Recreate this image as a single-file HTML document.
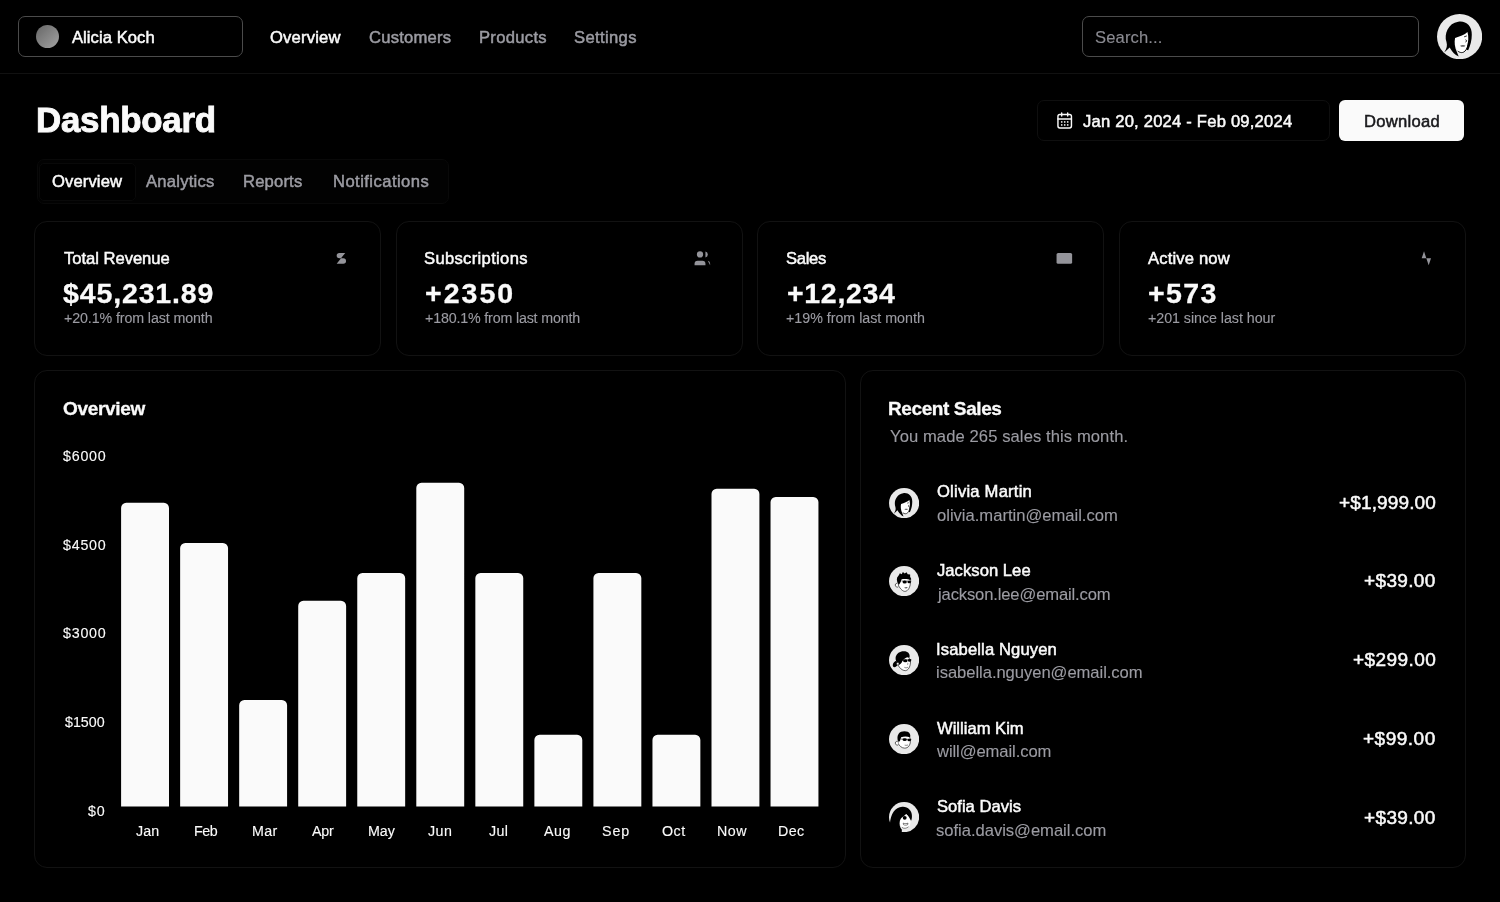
<!DOCTYPE html>
<html>
<head>
<meta charset="utf-8">
<title>Dashboard</title>
<style>
*{box-sizing:border-box;margin:0;padding:0}
html,body{width:1500px;height:902px;overflow:hidden;background:#000}
body{font-family:"Liberation Sans",sans-serif;color:#fafafa;position:relative}
.abs{position:absolute}
.t{position:absolute;white-space:nowrap;line-height:40px;will-change:transform}
.card{position:absolute;border:1px solid #121212;border-radius:13px}
.bar{position:absolute;width:47.9px;background:#fafafa;border-radius:4.5px 4.5px 0 0}
.ic{position:absolute;width:18.7px;height:18.7px;fill:#94949a}
.av{position:absolute;width:30.4px;height:30.4px}
#hdr{left:0;top:0;width:1500px;height:74px;border-bottom:1px solid #111}
#team{left:18px;top:16px;width:225px;height:41px;border:1px solid #4b4b4b;border-radius:7px}
#teamdot{left:35.8px;top:25px;width:23px;height:23px;border-radius:50%;background:linear-gradient(135deg,#666,#a3a3a3)}
#search{left:1082px;top:16px;width:337px;height:41px;border:1px solid #4b4b4b;border-radius:7px}
#date{left:1036.5px;top:99.5px;width:293px;height:41.5px;border-radius:7px;border:1px solid #0f0f0f}
#dl{left:1339px;top:100px;width:125px;height:41px;border-radius:6px;background:#fafafa}
#tabs{left:36.5px;top:158.5px;width:412px;height:45px;border-radius:7px;border:1px solid #090909;background:#020202}
#tabact{left:39px;top:163px;width:96.5px;height:37.5px;border-radius:5px;background:#000;border:1px solid #090909}
</style>
</head>
<body>
<div id="hdr" class="abs"></div>
<div id="team" class="abs"></div>
<div id="teamdot" class="abs"></div>
<div id="search" class="abs"></div>
<div id="date" class="abs"></div>
<div id="dl" class="abs"></div>
<div id="tabs" class="abs"></div>
<div id="tabact" class="abs"></div>
<div class="card" style="left:34px;top:221px;width:347px;height:135px"></div>
<div class="card" style="left:396px;top:221px;width:347px;height:135px"></div>
<div class="card" style="left:757px;top:221px;width:347px;height:135px"></div>
<div class="card" style="left:1119px;top:221px;width:347px;height:135px"></div>
<div class="card" style="left:34px;top:370px;width:812px;height:498px"></div>
<div class="card" style="left:860px;top:370px;width:606px;height:498px"></div>
<svg class="ic" style="left:331.8px;top:248.7px" viewBox="0 0 24 24"><path d="M17 5H9.5a3.5 3.5 0 0 0 0 7h5a3.5 3.5 0 0 1 0 7H6z"/></svg>
<svg class="ic" style="left:693.4px;top:248.7px" viewBox="0 0 24 24"><path d="M16 21v-2a4 4 0 0 0-4-4H6a4 4 0 0 0-4 4v2z"/><circle cx="9" cy="7" r="4"/><path d="M22 21v-2a4 4 0 0 0-3-3.87z"/><path d="M16 3.13a4 4 0 0 1 0 7.75z"/></svg>
<svg class="ic" style="left:1054.9px;top:248.7px" viewBox="0 0 24 24"><rect x="2" y="5" width="20" height="14" rx="2"/></svg>
<svg class="ic" style="left:1416.6px;top:248.7px" viewBox="0 0 24 24"><path d="M22 12h-4l-3 9L9 3l-3 9H2z"/></svg>
<svg class="abs" style="left:1055px;top:111px;width:18px;height:18px;fill:none;stroke:#fafafa;stroke-width:1.9;stroke-linecap:round;stroke-linejoin:round" viewBox="-0.93 -0.6 24 24"><rect x="3" y="4" width="18" height="18" rx="2.5"/><path d="M8 2v4M16 2v4M3 10h18"/><g fill="#fafafa" stroke="none"><rect x="7" y="13" width="2" height="2"/><rect x="11" y="13" width="2" height="2"/><rect x="15" y="13" width="2" height="2"/><rect x="7" y="17" width="2" height="2"/><rect x="11" y="17" width="2" height="2"/><rect x="15" y="17" width="2" height="2"/></g></svg>
<svg class="abs" viewBox="0 0 100 100" style="left:1436.90px;top:13.80px;width:45.2px;height:45.2px"><circle cx="50" cy="50" r="50" fill="#e9e9e9"/><path d="M38,50 C46,48 58,44 67,38 L71,46 C72,58 69,72 64,80 C59,87 52,87 47,83 C42,78 38,66 38,50Z" fill="#fff"/>
<path d="M70,60 C69,70 66,78 62,82 C57,87 51,86 46,82" fill="none" stroke="#000" stroke-width="2.2"/>
<path d="M47,17 C63,14 78,26 77,46 C77,58 74,70 69,80 L65,79 C68,69 70,58 69,48 L67.500,40 C61,46.500 50,50 40,53 C38,62 39,74 44,84 L48,94 L42,91 C35,85 31,79 28,74 L16,85 C22,76 23,70 21,62 C15,44 25,20 47,17Z" fill="#000"/>
<path d="M60,50.500 l6,-2 M63,57 c3.500,1 3.500,4 0,5" stroke="#000" stroke-width="1.800" fill="none"/>
<path d="M51,70 c4,-2 9,-2 12,0 c-3,3.500 -9,3.500 -12,0Z" fill="#666"/></svg>
<svg class="abs" viewBox="0 0 100 100" style="left:888.75px;top:487.80px;width:30.2px;height:30.2px"><circle cx="50" cy="50" r="50" fill="#e9e9e9"/><path d="M38,50 C46,48 58,44 67,38 L71,46 C72,58 69,72 64,80 C59,87 52,87 47,83 C42,78 38,66 38,50Z" fill="#fff"/>
<path d="M70,60 C69,70 66,78 62,82 C57,87 51,86 46,82" fill="none" stroke="#000" stroke-width="2.2"/>
<path d="M47,17 C63,14 78,26 77,46 C77,58 74,70 69,80 L65,79 C68,69 70,58 69,48 L67.500,40 C61,46.500 50,50 40,53 C38,62 39,74 44,84 L48,94 L42,91 C35,85 31,79 28,74 L16,85 C22,76 23,70 21,62 C15,44 25,20 47,17Z" fill="#000"/>
<path d="M60,50.500 l6,-2 M63,57 c3.500,1 3.500,4 0,5" stroke="#000" stroke-width="1.800" fill="none"/>
<path d="M51,70 c4,-2 9,-2 12,0 c-3,3.500 -9,3.500 -12,0Z" fill="#666"/></svg>
<svg class="abs" viewBox="0 0 100 100" style="left:888.75px;top:566.00px;width:30.2px;height:30.2px"><circle cx="50" cy="50" r="50" fill="#e9e9e9"/><path d="M30,55 C30,42 40,34 54,35 C66,36 72,44 71,56 C70,70 64,82 54,84 C46,85 38,76 32,66Z" fill="#fff" stroke="#000" stroke-width="2"/>
<path d="M27,58 c-5,-2 -8,4 -5,9 c2,3 6,4 9,2" fill="#fff" stroke="#000" stroke-width="2"/>
<path d="M33,62 C28,56 24,46 27,38 L33,30 L36,24 L42,27 L46,20 L52,25 L58,21 L62,27 L70,28 L70,36 L74,44 L70,46 C62,42 50,42 42,44 C40,50 38,56 33,62Z" fill="#000"/>
<path d="M42,50 L74,50" stroke="#000" stroke-width="2"/>
<ellipse cx="52" cy="53" rx="7" ry="5" fill="#000"/><ellipse cx="67" cy="53" rx="6" ry="4.5" fill="#000"/>
<path d="M50,72 c4,-3 9,-3 12,-1 c-3,4 -8,4 -12,1Z" fill="#666"/></svg>
<svg class="abs" viewBox="0 0 100 100" style="left:888.75px;top:644.90px;width:30.2px;height:30.2px"><circle cx="50" cy="50" r="50" fill="#e9e9e9"/><path d="M30,58 C30,44 42,36 56,38 C68,40 72,50 71,60 C70,72 64,84 54,85 C44,85 34,76 30,66Z" fill="#fff" stroke="#000" stroke-width="2"/>
<path d="M33,66 C26,60 20,50 22,40 C25,26 40,18 54,21 C66,24 70,32 68,42 L62,40 C54,42 48,48 44,54 C42,60 38,64 33,66Z" fill="#000"/>
<path d="M24,52 C14,56 10,66 14,72 C18,76 26,72 30,64Z" fill="#000"/>
<circle cx="29" cy="62" r="4" fill="#fff" stroke="#000" stroke-width="1.5"/>
<path d="M46,50 L74,48" stroke="#000" stroke-width="2"/>
<ellipse cx="54" cy="52" rx="7.5" ry="5" fill="#000"/><ellipse cx="68" cy="51" rx="5.5" ry="4.5" fill="#000"/>
<path d="M61,60 c3,1 3,4 0,5" stroke="#000" stroke-width="1.5" fill="none"/>
<path d="M51,74 c4,2 9,2 12,-1" stroke="#555" stroke-width="2.5" fill="none"/></svg>
<svg class="abs" viewBox="0 0 100 100" style="left:888.75px;top:723.80px;width:30.2px;height:30.2px"><circle cx="50" cy="50" r="50" fill="#e9e9e9"/><path d="M30,56 C30,42 40,34 54,35 C66,36 72,46 71,58 C70,70 64,80 52,80 C42,80 34,72 30,64Z" fill="#fff" stroke="#000" stroke-width="2"/>
<path d="M28,58 c-6,-2 -9,4 -6,9 c2,3 6,4 9,2" fill="#fff" stroke="#000" stroke-width="2"/>
<path d="M33,60 C27,52 26,40 32,32 C38,24 52,22 62,26 C70,30 72,38 70,44 C60,40 48,40 40,44 C39,50 37,56 33,60Z" fill="#000"/>
<path d="M40,50 L74,51" stroke="#000" stroke-width="2"/>
<ellipse cx="52" cy="52" rx="7" ry="4.5" fill="#000"/><ellipse cx="67" cy="53" rx="6" ry="4" fill="#000"/>
<path d="M52,70 c4,1 8,1 11,-1" stroke="#333" stroke-width="2" fill="none"/></svg>
<svg class="abs" viewBox="0 0 100 100" style="left:888.75px;top:802.10px;width:30.2px;height:30.2px"><circle cx="50" cy="50" r="50" fill="#e9e9e9"/><path d="M36,66 C36,52 46,44 58,45 C68,46 72,56 71,68 C70,80 64,88 56,88 C46,88 36,80 36,66Z" fill="#fff"/>
<path d="M3,73 C5,40 20,17 44,15.500 C62,14 76,28 76,46 C76,54 75,58 73,62 L66,50 L57,40 L49,47 C41,51 35,58 35,70 C35,80 39,88 43,92 L41.500,99.500 C20,97 6,86 3,73Z" fill="#000"/>
<path d="M-3,70 C-1,88 18,103 42,103 L41,96 L4,72Z" fill="#000"/>
<path d="M49,48 L57,40.500 L65,48Z" fill="#f4f4f4"/>
<circle cx="52" cy="52.500" r="6.500" fill="#000"/>
<path d="M47,70 c5,2 12,2 16,0 l-1,5 c-4,2.500 -10,2.500 -14,0Z" fill="#fff" stroke="#000" stroke-width="1.600"/>
<path d="M43,84 c6,5 15,4 22,-2" stroke="#000" stroke-width="1.600" fill="none"/></svg>

<svg class="abs" style="left:0;top:0;width:1500px;height:902px" viewBox="0 0 1500 902"><path fill="#fafafa" d="M121.10,806.6V507.90a5.2,5.2 0 0 1 5.2,-5.2h37.50a5.2,5.2 0 0 1 5.2,5.2V806.6zM180.14,806.6V548.10a5.2,5.2 0 0 1 5.2,-5.2h37.50a5.2,5.2 0 0 1 5.2,5.2V806.6zM239.18,806.6V705.20a5.2,5.2 0 0 1 5.2,-5.2h37.50a5.2,5.2 0 0 1 5.2,5.2V806.6zM298.22,806.6V606.00a5.2,5.2 0 0 1 5.2,-5.2h37.50a5.2,5.2 0 0 1 5.2,5.2V806.6zM357.26,806.6V578.20a5.2,5.2 0 0 1 5.2,-5.2h37.50a5.2,5.2 0 0 1 5.2,5.2V806.6zM416.30,806.6V487.90a5.2,5.2 0 0 1 5.2,-5.2h37.50a5.2,5.2 0 0 1 5.2,5.2V806.6zM475.34,806.6V578.10a5.2,5.2 0 0 1 5.2,-5.2h37.50a5.2,5.2 0 0 1 5.2,5.2V806.6zM534.38,806.6V739.90a5.2,5.2 0 0 1 5.2,-5.2h37.50a5.2,5.2 0 0 1 5.2,5.2V806.6zM593.42,806.6V578.10a5.2,5.2 0 0 1 5.2,-5.2h37.50a5.2,5.2 0 0 1 5.2,5.2V806.6zM652.46,806.6V739.90a5.2,5.2 0 0 1 5.2,-5.2h37.50a5.2,5.2 0 0 1 5.2,5.2V806.6zM711.50,806.6V494.00a5.2,5.2 0 0 1 5.2,-5.2h37.50a5.2,5.2 0 0 1 5.2,5.2V806.6zM770.54,806.6V502.10a5.2,5.2 0 0 1 5.2,-5.2h37.50a5.2,5.2 0 0 1 5.2,5.2V806.6z"/></svg>
<div class="t" style="left:72.11px;top:18px;font-size:16.6px;letter-spacing:0.057px;color:#fafafa;-webkit-text-stroke:0.5px #fafafa">Alicia Koch</div>
<div class="t" style="left:269.93px;top:18px;font-size:16.6px;letter-spacing:0.186px;color:#fafafa;-webkit-text-stroke:0.5px #fafafa">Overview</div>
<div class="t" style="left:368.77px;top:18px;font-size:16.6px;letter-spacing:0.217px;color:#9b9ba2;-webkit-text-stroke:0.5px #9b9ba2">Customers</div>
<div class="t" style="left:478.55px;top:18px;font-size:16.6px;letter-spacing:0.303px;color:#9b9ba2;-webkit-text-stroke:0.5px #9b9ba2">Products</div>
<div class="t" style="left:574.33px;top:18px;font-size:16.6px;letter-spacing:0.358px;color:#9b9ba2;-webkit-text-stroke:0.5px #9b9ba2">Settings</div>
<div class="t" style="left:1094.50px;top:18px;font-size:16.6px;letter-spacing:0.126px;color:#8b8b92;-webkit-text-stroke:0.12px #8b8b92">Search...</div>
<div class="t" style="left:35.85px;top:100px;font-size:34.9px;letter-spacing:-0.276px;color:#fafafa;font-weight:bold;-webkit-text-stroke:0.9px #fafafa">Dashboard</div>
<div class="t" style="left:1082.83px;top:102px;font-size:16.6px;letter-spacing:0.210px;color:#fafafa;-webkit-text-stroke:0.5px #fafafa">Jan 20, 2024 - Feb 09,2024</div>
<div class="t" style="left:1363.55px;top:102px;font-size:16.6px;letter-spacing:0.285px;color:#18181b;-webkit-text-stroke:0.5px #18181b">Download</div>
<div class="t" style="left:51.53px;top:162px;font-size:16.6px;letter-spacing:0.116px;color:#fafafa;-webkit-text-stroke:0.5px #fafafa">Overview</div>
<div class="t" style="left:145.71px;top:162px;font-size:16.6px;letter-spacing:0.247px;color:#9b9ba2;-webkit-text-stroke:0.5px #9b9ba2">Analytics</div>
<div class="t" style="left:243.35px;top:162px;font-size:16.6px;letter-spacing:0.182px;color:#9b9ba2;-webkit-text-stroke:0.5px #9b9ba2">Reports</div>
<div class="t" style="left:333.25px;top:162px;font-size:16.6px;letter-spacing:0.447px;color:#9b9ba2;-webkit-text-stroke:0.5px #9b9ba2">Notifications</div>
<div class="t" style="left:63.55px;top:239px;font-size:16.6px;letter-spacing:-0.030px;color:#fafafa;-webkit-text-stroke:0.5px #fafafa">Total Revenue</div>
<div class="t" style="left:63.31px;top:273px;font-size:28.5px;letter-spacing:0.863px;color:#fafafa;font-weight:bold;-webkit-text-stroke:0.3px #fafafa">$45,231.89</div>
<div class="t" style="left:63.63px;top:298px;font-size:14.25px;letter-spacing:-0.109px;color:#9b9ba2;-webkit-text-stroke:0.12px #9b9ba2">+20.1% from last month</div>
<div class="t" style="left:424.33px;top:239px;font-size:16.6px;letter-spacing:0.324px;color:#fafafa;-webkit-text-stroke:0.5px #fafafa">Subscriptions</div>
<div class="t" style="left:425.07px;top:273px;font-size:28.5px;letter-spacing:2.022px;color:#fafafa;font-weight:bold;-webkit-text-stroke:0.3px #fafafa">+2350</div>
<div class="t" style="left:425.13px;top:298px;font-size:14.25px;letter-spacing:-0.168px;color:#9b9ba2;-webkit-text-stroke:0.12px #9b9ba2">+180.1% from last month</div>
<div class="t" style="left:786.03px;top:239px;font-size:16.6px;letter-spacing:-0.299px;color:#fafafa;-webkit-text-stroke:0.5px #fafafa">Sales</div>
<div class="t" style="left:786.77px;top:273px;font-size:28.5px;letter-spacing:0.688px;color:#fafafa;font-weight:bold;-webkit-text-stroke:0.3px #fafafa">+12,234</div>
<div class="t" style="left:786.33px;top:298px;font-size:14.25px;letter-spacing:-0.010px;color:#9b9ba2;-webkit-text-stroke:0.12px #9b9ba2">+19% from last month</div>
<div class="t" style="left:1147.81px;top:239px;font-size:16.6px;letter-spacing:0.161px;color:#fafafa;-webkit-text-stroke:0.5px #fafafa">Active now</div>
<div class="t" style="left:1147.97px;top:273px;font-size:28.5px;letter-spacing:1.416px;color:#fafafa;font-weight:bold;-webkit-text-stroke:0.3px #fafafa">+573</div>
<div class="t" style="left:1148.03px;top:298px;font-size:14.25px;letter-spacing:-0.039px;color:#9b9ba2;-webkit-text-stroke:0.12px #9b9ba2">+201 since last hour</div>
<div class="t" style="left:63.14px;top:389px;font-size:19px;letter-spacing:-0.310px;color:#fafafa;font-weight:bold;-webkit-text-stroke:0.3px #fafafa">Overview</div>
<div class="t" style="left:62.92px;top:436px;font-size:14.25px;letter-spacing:0.778px;color:#fafafa;-webkit-text-stroke:0.12px #fafafa">$6000</div>
<div class="t" style="left:62.92px;top:525px;font-size:14.25px;letter-spacing:0.778px;color:#fafafa;-webkit-text-stroke:0.12px #fafafa">$4500</div>
<div class="t" style="left:62.92px;top:613px;font-size:14.25px;letter-spacing:0.778px;color:#fafafa;-webkit-text-stroke:0.12px #fafafa">$3000</div>
<div class="t" style="left:65.42px;top:702px;font-size:14.25px;letter-spacing:0.005px;color:#fafafa;-webkit-text-stroke:0.12px #fafafa">$1500</div>
<div class="t" style="left:87.62px;top:791px;font-size:14.25px;letter-spacing:0.827px;color:#fafafa;-webkit-text-stroke:0.12px #fafafa">$0</div>
<div class="t" style="left:135.73px;top:811px;font-size:14.25px;letter-spacing:0.133px;color:#fafafa;-webkit-text-stroke:0.12px #fafafa">Jan</div>
<div class="t" style="left:193.63px;top:811px;font-size:14.25px;letter-spacing:-0.412px;color:#fafafa;-webkit-text-stroke:0.12px #fafafa">Feb</div>
<div class="t" style="left:251.53px;top:811px;font-size:14.25px;letter-spacing:0.298px;color:#fafafa;-webkit-text-stroke:0.12px #fafafa">Mar</div>
<div class="t" style="left:312.18px;top:811px;font-size:14.25px;letter-spacing:-0.168px;color:#fafafa;-webkit-text-stroke:0.12px #fafafa">Apr</div>
<div class="t" style="left:367.53px;top:811px;font-size:14.25px;letter-spacing:-0.035px;color:#fafafa;-webkit-text-stroke:0.12px #fafafa">May</div>
<div class="t" style="left:428.13px;top:811px;font-size:14.25px;letter-spacing:0.487px;color:#fafafa;-webkit-text-stroke:0.12px #fafafa">Jun</div>
<div class="t" style="left:489.13px;top:811px;font-size:14.25px;letter-spacing:0.351px;color:#fafafa;-webkit-text-stroke:0.12px #fafafa">Jul</div>
<div class="t" style="left:543.88px;top:811px;font-size:14.25px;letter-spacing:0.584px;color:#fafafa;-webkit-text-stroke:0.12px #fafafa">Aug</div>
<div class="t" style="left:602.14px;top:811px;font-size:14.25px;letter-spacing:0.912px;color:#fafafa;-webkit-text-stroke:0.12px #fafafa">Sep</div>
<div class="t" style="left:662.21px;top:811px;font-size:14.25px;letter-spacing:0.500px;color:#fafafa;-webkit-text-stroke:0.12px #fafafa">Oct</div>
<div class="t" style="left:717.13px;top:811px;font-size:14.25px;letter-spacing:0.555px;color:#fafafa;-webkit-text-stroke:0.12px #fafafa">Now</div>
<div class="t" style="left:777.53px;top:811px;font-size:14.25px;letter-spacing:0.436px;color:#fafafa;-webkit-text-stroke:0.12px #fafafa">Dec</div>
<div class="t" style="left:888.44px;top:389px;font-size:19px;letter-spacing:-0.397px;color:#fafafa;font-weight:bold;-webkit-text-stroke:0.3px #fafafa">Recent Sales</div>
<div class="t" style="left:889.67px;top:417px;font-size:16.6px;letter-spacing:0.087px;color:#9b9ba2;-webkit-text-stroke:0.12px #9b9ba2">You made 265 sales this month.</div>
<div class="t" style="left:936.63px;top:472px;font-size:16.6px;letter-spacing:0.217px;color:#fafafa;-webkit-text-stroke:0.5px #fafafa">Olivia Martin</div>
<div class="t" style="left:936.50px;top:496px;font-size:16.6px;letter-spacing:-0.010px;color:#9b9ba2;-webkit-text-stroke:0.12px #9b9ba2">olivia.martin@email.com</div>
<div class="t" style="left:1338.95px;top:483px;font-size:19px;letter-spacing:0.133px;color:#fafafa;-webkit-text-stroke:0.5px #fafafa">+$1,999.00</div>
<div class="t" style="left:936.93px;top:551px;font-size:16.6px;letter-spacing:0.044px;color:#fafafa;-webkit-text-stroke:0.5px #fafafa">Jackson Lee</div>
<div class="t" style="left:937.63px;top:575px;font-size:16.6px;letter-spacing:-0.142px;color:#9b9ba2;-webkit-text-stroke:0.12px #9b9ba2">jackson.lee@email.com</div>
<div class="t" style="left:1364.05px;top:561px;font-size:19px;letter-spacing:0.359px;color:#fafafa;-webkit-text-stroke:0.5px #fafafa">+$39.00</div>
<div class="t" style="left:935.85px;top:630px;font-size:16.6px;letter-spacing:0.131px;color:#fafafa;-webkit-text-stroke:0.5px #fafafa">Isabella Nguyen</div>
<div class="t" style="left:935.94px;top:653px;font-size:16.6px;letter-spacing:-0.049px;color:#9b9ba2;-webkit-text-stroke:0.12px #9b9ba2">isabella.nguyen@email.com</div>
<div class="t" style="left:1352.65px;top:640px;font-size:19px;letter-spacing:0.437px;color:#fafafa;-webkit-text-stroke:0.5px #fafafa">+$299.00</div>
<div class="t" style="left:937.02px;top:709px;font-size:16.6px;letter-spacing:0.003px;color:#fafafa;-webkit-text-stroke:0.5px #fafafa">William Kim</div>
<div class="t" style="left:936.96px;top:732px;font-size:16.6px;letter-spacing:-0.087px;color:#9b9ba2;-webkit-text-stroke:0.12px #9b9ba2">will@email.com</div>
<div class="t" style="left:1363.45px;top:719px;font-size:19px;letter-spacing:0.499px;color:#fafafa;-webkit-text-stroke:0.5px #fafafa">+$99.00</div>
<div class="t" style="left:936.53px;top:787px;font-size:16.6px;letter-spacing:-0.000px;color:#fafafa;-webkit-text-stroke:0.5px #fafafa">Sofia Davis</div>
<div class="t" style="left:936.06px;top:811px;font-size:16.6px;letter-spacing:-0.027px;color:#9b9ba2;-webkit-text-stroke:0.12px #9b9ba2">sofia.davis@email.com</div>
<div class="t" style="left:1364.05px;top:798px;font-size:19px;letter-spacing:0.359px;color:#fafafa;-webkit-text-stroke:0.5px #fafafa">+$39.00</div>
</body>
</html>
